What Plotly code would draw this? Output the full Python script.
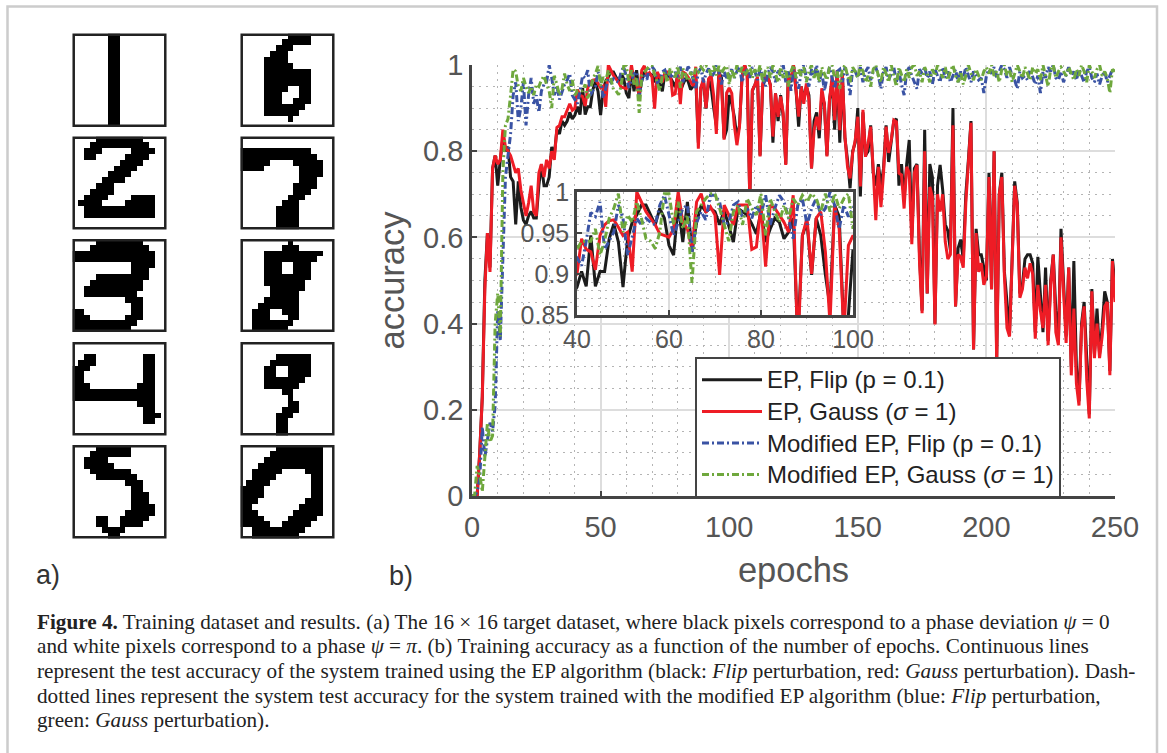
import plotly.graph_objects as go

W, H = 1167, 753

ep_flip = [0,0,0,.1,.23,.5,.61,.53,.76,.79,
 .72,.78,.83,.8,.81,.74,.73,.63,.73,.67,
 .64,.63,.65,.66,.645,.645,.72,.77,.72,.72,
 .74,.81,.79,.85,.84,.87,.86,.87,.89,.875,
 .884,.903,.885,.947,.885,.903,.903,.943,.961,.939,
 .884,.943,.963,.972,.984,.984,.972,.96,.98,.968,
 .935,.923,.984,.939,.988,.927,.963,.984,.976,.98,
 .976,.96,.978,.96,.939,.98,.976,.972,.961,.949,
 .976,.939,.955,.968,.963,.943,.951,.968,.82,.947,
 .963,.899,.968,.947,.899,.86,.984,.97,.83,.85,
 .93,.91,.88,.83,.86,.973,1,.98,.69,.94,
 .954,.97,.79,.95,.97,.973,.954,.82,.934,.87,
 .93,.88,.77,.98,.96,1,.94,.857,.95,.92,
 .95,.93,.76,.87,.89,.83,.93,.91,.79,.92,
 .96,.85,.98,.82,.98,.83,.78,.714,.80,.82,
 .90,.695,.89,.79,.80,.86,.75,.72,.77,.72,
 .76,.86,.775,.83,.87,.875,.72,.77,.69,.77,
 .826,.60,.76,.77,.56,.43,.85,.47,.77,.74,
 .40,.72,.768,.71,.63,.615,.57,.90,.44,.575,
 .595,.55,.70,.78,.87,.34,.62,.56,.56,.53,
 .50,.75,.48,.80,.32,.70,.75,.52,.44,.38,
 .55,.73,.68,.47,.49,.55,.56,.56,.54,.38,
 .555,.47,.38,.53,.36,.50,.56,.43,.36,.62,
 .48,.37,.53,.30,.545,.30,.22,.40,.45,.31,
 .19,.48,.33,.435,.33,.39,.475,.45,.29,.55,.49]

ep_gauss = [0,0,0,.1,.23,.48,.61,.52,.76,.79,
 .77,.78,.85,.81,.80,.79,.77,.75,.76,.71,
 .68,.65,.68,.72,.66,.65,.75,.77,.74,.78,
 .76,.80,.78,.855,.86,.88,.88,.895,.91,.895,
 .90,.943,.93,.927,.905,.947,.96,.965,.966,.957,
 .947,.951,.903,1,.988,.976,.968,.96,.949,.947,
 .945,.955,1,.963,.955,.93,.988,.998,.975,.982,
 .972,.899,.984,.972,.96,.984,.984,.984,.93,.933,
 .984,.909,.984,.98,.972,.963,.951,.996,.806,.947,
 .968,.90,.968,.976,.927,.84,.984,.955,.827,.935,
 .947,.934,.86,.814,.857,.973,1,.98,.687,.942,
 .954,.973,.788,.957,.973,.973,.954,.834,.934,.88,
 .927,.888,.768,.98,.965,1,.942,.88,.95,.91,
 .957,.919,.76,.849,.88,.849,.946,.91,.788,.919,
 .973,.872,.988,.849,.98,.834,.764,.737,.796,.826,
 .88,.718,.896,.787,.818,.857,.756,.64,.764,.67,
 .749,.857,.796,.826,.872,.868,.749,.745,.667,.764,
 .75,.584,.75,.768,.54,.424,.8,.47,.717,.694,
 .398,.70,.66,.70,.59,.55,.56,.86,.44,.56,
 .555,.53,.68,.77,.866,.34,.61,.52,.54,.49,
 .51,.74,.48,.80,.30,.70,.74,.51,.39,.37,
 .555,.72,.675,.46,.48,.53,.505,.54,.515,.365,
 .49,.43,.39,.49,.35,.49,.56,.38,.35,.60,
 .475,.355,.53,.28,.435,.26,.21,.39,.44,.27,
 .18,.475,.32,.40,.32,.37,.44,.45,.28,.545,.45]

mod_flip = [0,0,.01,.04,.16,.09,.13,.17,.15,.21,
 .43,.36,.55,.74,.79,.84,.93,.96,.87,.90,
 .96,.86,.93,.97,.91,.93,.89,.94,.955,.96,
 1,.97,.93,.95,.92,.94,.955,.965,.98,.93,
 .92,.91,.94,.975,.97,.988,.93,.94,.951,.984,
 .968,.923,.947,.968,.96,.968,.963,.96,.984,.996,
 .972,.947,.963,.98,.984,.927,.963,.976,.966,.996,
 .996,.988,.96,.963,.984,.988,.968,.98,.968,.984,
 .972,.996,.96,.98,.996,.988,.968,.943,.984,.992,
 .96,.98,.992,.972,.98,1,.984,.955,.984,.97,
 .98,.99,.97,.985,.995,.96,.98,.99,.97,.995,
 .985,.965,.99,.975,.95,.98,.995,.985,.96,.99,
 .975,1,.96,.985,.94,.99,.97,.945,.985,1,
 .97,.95,.99,.975,1,.96,.985,.94,.97,.995,
 .97,.945,.985,.99,.96,.995,.975,.93,.99,.985,
 .97,.995,.96,.985,.995,.965,.985,.995,.975,.945,
 .985,.995,.965,.98,.995,.96,.985,.955,.93,.985,
 .995,.975,.96,.945,.99,.98,.995,.97,.985,.955,
 .99,.975,.96,.995,.97,.985,.96,.975,.99,.96,
 .985,.97,.995,.975,.96,.985,.975,.965,.97,.935,
 .975,.99,.98,.995,.97,.985,1,.99,.97,.995,
 .975,.965,.945,.985,.97,.975,.965,.99,.97,.955,
 .975,.935,.985,.97,.995,.985,1,.97,.965,.985,
 .96,.98,.995,.975,.985,.965,.99,.975,.96,.985,
 .995,.97,.96,.98,.955,.975,.985,.96,.975,.99,.98]

mod_gauss = [0,0,.07,.05,.01,.10,.17,.125,.14,.40,
 .47,.37,.75,.86,.875,.93,.99,.985,.95,.94,
 .97,.95,.935,.95,.93,.955,.95,.965,.975,.955,
 .94,.90,.975,.955,.93,.945,.98,.955,.94,.965,
 .93,.94,.94,.94,.955,.923,.94,.968,.98,.998,
 .951,.972,.963,.988,.968,.943,.94,.931,.951,.998,
 .998,.96,.988,.955,.972,.889,.976,.984,.992,.998,
 .998,.98,.96,.94,.976,.984,.96,.992,.98,.972,
 .998,.947,.992,.976,.963,.984,.968,.992,.984,.996,
 .988,.998,.992,.976,.998,.976,.998,.98,.992,.998,
 .955,.99,.97,1,.98,.995,.975,.985,1,.97,
 .99,.975,1,.96,.985,.995,.97,1,.98,.96,
 .995,.97,.99,.95,.985,1,.97,.99,.975,.995,
 .96,.985,1,.97,.99,.96,.995,.98,.965,.995,
 1,.97,.985,.945,.99,1,.975,.96,.995,.985,
 .97,1,.985,.96,.975,.95,.99,1,.975,.96,
 .995,.98,.96,1,.975,.95,.995,.975,.96,.99,
 .97,.995,1,.975,.985,.96,.995,.98,.96,.99,
 .975,1,.985,.97,.995,.965,.985,1,.975,.96,
 .985,.955,.975,1,.98,.965,.99,.975,.965,.985,
 .995,.98,1,.975,.985,.96,.99,1,.975,.99,
 .96,.98,1,.985,.97,.995,.98,.965,.995,.98,
 .99,.965,1,.975,.95,.99,1,.97,.985,.995,
 .985,.975,.995,.98,.965,.99,.975,1,.985,.96,
 1,.985,.97,.99,1,.975,.985,.97,.935,.99,.985]

epochs = list(range(251))
for s in (ep_flip, ep_gauss, mod_flip, mod_gauss):
    assert len(s) == 251, len(s)

series_names = ['<span style="font-size:24px">EP, Flip (p = 0.1)</span>',
                '<span style="font-size:24px">EP, Gauss (<i>σ</i> = 1)</span>',
                '<span style="font-size:24px">Modified EP, Flip (p = 0.1)</span>',
                '<span style="font-size:24px">Modified EP, Gauss (<i>σ</i> = 1)</span>']
series_colors = ["#1c1c1c", "#ee1c25", "#3a53a4", "#6fa83d"]

digit_1 = ["......##........"] * 16
digit_2 = ["....########....","...##########...","..###.....####..","..##.....####...",
           "........####....",".......####.....","......####......",".....####.......",
           "....###.........","...####.........","..####....####..",".####....#####..",
           "..############..","..############..","................","................"]
digit_3 = ["....########....","...##########...","##############..","##############..",
           "..........####..","..........###...","....#########...","...#########....",
           "..##########....","..#########.....",".........###....","..........##....",
           "##........##....","###......###....","###########.....","##########......"]
digit_4 = ["................","................","..##........##..",".###........##..",
           "###.........##..","##..........##..","##..........##..","###........###..",
           "##############..","##############..","...........###..","............##..",
           "............###.","............##..","................","................"]
digit_5 = ["....######......","...#######......","..####..........","..#####.........",
           "...#######......","....#######.....",".........###....","..........##....",
           "..........###...","..........###...","..........####..",".........#####..",
           "....##..#####...","....##..####....",".....####.......","......##........"]
digit_6 = ["........####....",".......#####....","......###.......",".....###........",
           "....####........","....#####.......","....########....","....########....",
           "....########....","....####..##....","....###...##....","....###..###....",
           "....#######.....","....######......","........#.......","................"]
digit_7 = ["................","................","############....","#############...",
           "#####....#####..","####......####..","..........####..","..........###...",
           ".........####...",".........###....","........###.....",".......###......",
           "......####......","......####......","......####......","......####......"]
digit_8 = ["........#.......",".......###......","....##########..","....#########...",
           "....###..###....","....###..###....","....########....","....#######.....",
           ".....######.....",".....#####......","....######......","...#######......",
           "..###..###......","..###...##......","..#######.......","..######........"]
digit_9 = ["................","................","......######....",".....#######....",
           "....##..####....","....##..####....","....#######.....","....######......",
           ".......##.......","........#.......","........##......",".......###......",
           "......###.......","......##........","......##........","......##........"]
digit_0 = ["......########..",".....#########..","....##########..","...###########..",
           "..#####....###..","..####......##..",".####.......##..","####........##..",
           "####........##..","###........###..","##........####..","###......#####..",
           "####....#####...","#####..#####....","..#########.....","..########......"]

digits_left = [digit_1, digit_2, digit_3, digit_4, digit_5]
digits_right = [digit_6, digit_7, digit_8, digit_9, digit_0]

main_x_ticks = [0, 50, 100, 150, 200, 250]
main_y_ticks = [0, .2, .4, .6, .8, 1]
main_y_text = ["0", "0.2", "0.4", "0.6", "0.8", "1"]
inset_x_ticks = [40, 60, 80, 100]
inset_y_ticks = [.85, .9, .95, 1]
inset_y_text = ["0.85", "0.9", "0.95", "1"]

caption = [
 "<b>Figure 4.</b> Training dataset and results. (a) The 16 × 16 target dataset, where black pixels correspond to a phase deviation <i>ψ</i> = 0",
 "and white pixels correspond to a phase <i>ψ</i> = <i>π</i>. (b) Training accuracy as a function of the number of epochs. Continuous lines",
 "represent the test accuracy of the system trained using the EP algorithm (black: <i>Flip</i> perturbation, red: <i>Gauss</i> perturbation). Dash-",
 "dotted lines represent the system test accuracy for the system trained with the modified EP algorithm (blue: <i>Flip</i> perturbation,",
 "green: <i>Gauss</i> perturbation).",
]
caption_y = [622, 646, 671, 696, 720]


def px(x):
    return x / W


def py(y):
    return 1 - y / H


fig = go.Figure()
layout = {}
TXT = "#555555"
FONT = "Liberation Sans"
AXC = "#444444"
GRID = "#dddddd"
DOT = "#b4b4b4"
DOTS = "2px,5px"
LW = 3
DASHDOT = "7px,3px,2px,3px"


def line_axes(domain, rng, ticks, text, minor_dtick, tfs, **kw):
    d = dict(domain=domain, range=rng, tickmode="array", tickvals=ticks,
             showgrid=True, gridcolor=GRID, gridwidth=2, zeroline=False,
             showline=True, linecolor=AXC, linewidth=2.5, ticks="inside", ticklen=5,
             tickcolor=AXC, tickwidth=1.5,
             tickfont=dict(family=FONT, size=tfs, color=TXT),
             minor=dict(dtick=minor_dtick, showgrid=True, gridcolor=DOT, gridwidth=1,
                        griddash=DOTS, ticks=""))
    if text:
        d["ticktext"] = text
    d.update(kw)
    return d


all_series = [ep_flip, ep_gauss, mod_flip, mod_gauss]
for i, (y, n, c) in enumerate(zip(all_series, series_names, series_colors)):
    dash = "solid" if i < 2 else DASHDOT
    fig.add_trace(go.Scatter(x=epochs, y=y, mode="lines", name=n,
                             line=dict(color=c, width=LW, dash=dash),
                             xaxis="x", yaxis="y", showlegend=True))
for y, c, i in zip(all_series, series_colors, range(4)):
    dash = "solid" if i < 2 else DASHDOT
    fig.add_trace(go.Scatter(x=epochs, y=y, mode="lines",
                             line=dict(color=c, width=LW, dash=dash),
                             xaxis="x2", yaxis="y2", showlegend=False))

layout["xaxis"] = line_axes([px(472), px(1115)], [0, 250], main_x_ticks, None, 10, 29,
                            anchor="y", ticklabelstandoff=3,
                            title=dict(text="epochs", standoff=17,
                                       font=dict(family=FONT, size=34.5, color=TXT)))
layout["yaxis"] = line_axes([py(496), py(65)], [0, 1], main_y_ticks, main_y_text, .05, 29,
                            anchor="x", title=dict(text="accuracy", standoff=9,
                            font=dict(family=FONT, size=34.5, color=TXT)))
layout["xaxis2"] = line_axes([px(577), px(853)], [40, 100], inset_x_ticks, None, 5, 25,
                             anchor="y2", mirror=True)
layout["yaxis2"] = line_axes([py(315), py(192)], [.85, 1], inset_y_ticks, inset_y_text, .01, 25,
                             anchor="x2", mirror=True)

col_x = [(72.5, 166.5), (240.5, 334.5)]
row_y = [(33.5, 127), (136.5, 229.5), (239, 332), (342, 435.5), (445, 538.5)]
shapes = [dict(type="rect", xref="paper", yref="paper", x0=px(7.5), x1=px(1157),
               y0=py(760), y1=py(6.5), line=dict(color="#cccccc", width=2.5), layer="below")]
ax = 3
for cx, digits in zip(col_x, (digits_left, digits_right)):
    for ry, dg in zip(row_y, digits):
        z = [[1 if ch == "#" else 0 for ch in row] for row in dg]
        fig.add_trace(go.Heatmap(z=z, zmin=0, zmax=1, showscale=False,
                                 colorscale=[[0, "white"], [1, "black"]],
                                 xaxis=f"x{ax}", yaxis=f"y{ax}", hoverinfo="skip"))
        common = dict(showgrid=False, zeroline=False, ticks="", showticklabels=False, showline=False)
        layout[f"xaxis{ax}"] = dict(domain=[px(cx[0]), px(cx[1])], range=[-.5, 15.5],
                                    anchor=f"y{ax}", **common)
        layout[f"yaxis{ax}"] = dict(domain=[py(ry[1]), py(ry[0])], range=[15.5, -.5],
                                    anchor=f"x{ax}", **common)
        shapes.append(dict(type="rect", xref=f"x{ax} domain", yref=f"y{ax} domain",
                           x0=.013, x1=.987, y0=.013, y1=.987, layer="above",
                           line=dict(color="#222222", width=2.5)))
        ax += 1

annotations = [
    dict(text="a)", x=px(34), y=py(575), font=dict(family=FONT, size=27, color="#333333")),
    dict(text="b)", x=px(387), y=py(576), font=dict(family=FONT, size=27, color="#333333")),
]
for t, yy in zip(caption, caption_y):
    annotations.append(dict(text=t, x=px(35), y=py(yy),
                            font=dict(family="Liberation Serif", size=21.2, color="#222222")))
for a in annotations:
    a.update(xref="paper", yref="paper", xanchor="left", yanchor="middle", showarrow=False)

fig.update_layout(
    width=W, height=H, margin=dict(l=0, r=0, t=0, b=0, autoexpand=False),
    paper_bgcolor="white", plot_bgcolor="white", showlegend=True,
    annotations=annotations, shapes=shapes,
    legend=dict(x=px(695), y=py(357), xanchor="left", yanchor="top", bgcolor="white",
                bordercolor=AXC, borderwidth=2, itemwidth=60,
                font=dict(family=FONT, size=22, color="#222222"), itemclick=False),
    **layout,
)
fig.write_html("out.html", config={"displayModeBar": False},
               post_script="document.body.style.margin='0';document.body.style.overflow='hidden';")
